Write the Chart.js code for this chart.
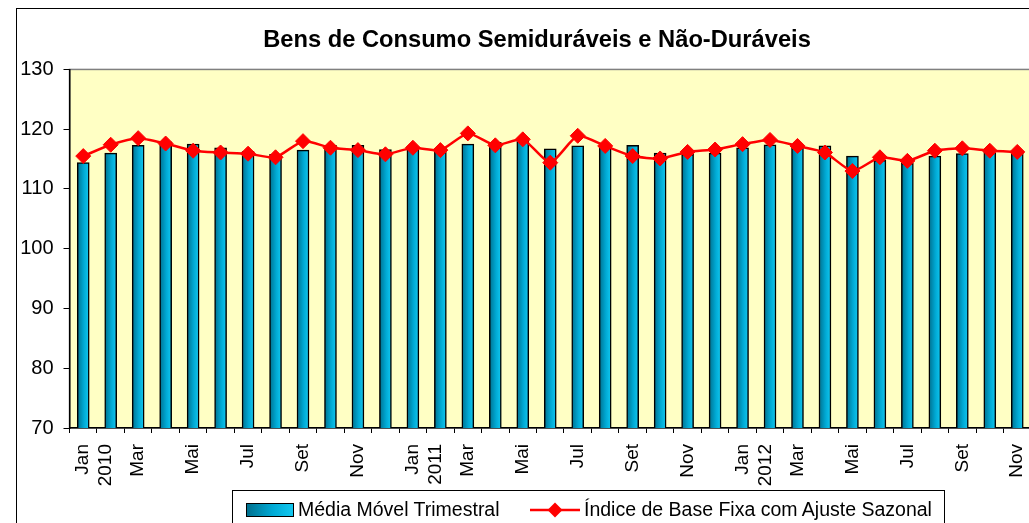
<!DOCTYPE html>
<html>

<head>
    <title>Bens de Consumo Semiduráveis e Não-Duráveis</title>
    <script src="https://cdn.jsdelivr.net/npm/chart.js"></script>
    <style>
        body { margin: 0; overflow: hidden; background: #fff; font-family: "Liberation Sans", Arial, sans-serif; }
        #frame { position: absolute; left: 16px; top: 8px; width: 1042px; height: 530px; border: 1px solid #000; box-sizing: border-box; }
        #legenda { position: absolute; left: 232px; top: 490px; width: 713px; height: 45px; border: 1px solid #000; box-sizing: border-box; font-size: 19.5px; color: #000; }
        #legenda .item { position: absolute; top: 7px; display: flex; align-items: center; white-space: nowrap; }
        #legenda .barra { width: 46px; height: 12px; border: 1.5px solid #000; background: linear-gradient(to right, #00708e, #00a9d4 55%, #12c8f0); margin-right: 4px; }
    </style>
</head>

<body>
    <div id="frame"><canvas id="grafico"></canvas></div>
    <div id="legenda">
        <div class="item" style="left: 13px;"><span class="barra"></span>Média Móvel Trimestral</div>
        <div class="item" style="left: 297px;">
            <svg width="50" height="18" style="margin-right: 4px;">
                <line x1="0" y1="9" x2="50" y2="9" stroke="#ff0000" stroke-width="2.5" />
                <polygon points="25,1.5 32.5,9 25,16.5 17.5,9" fill="#ff0000" />
            </svg>Índice de Base Fixa com Ajuste Sazonal
        </div>
    </div>

    <script>
        // dados (jan/2010 a nov/2012)
        const meses = ['Jan', 'Fev', 'Mar', 'Abr', 'Mai', 'Jun', 'Jul', 'Ago', 'Set', 'Out', 'Nov', 'Dez'];
        const anos = ['2010', '2011', '2012'];
        const totalMeses = 35;

        const mediaMovel = [
            114.4, 116.0, 117.3, 117.9, 117.5, 116.9, 116.3, 115.8, 116.5, 117.3, 117.3, 116.6,
            117.0, 116.8, 117.5, 117.8, 118.2, 116.7, 117.2, 117.0, 117.3, 116.0, 115.8, 116.0,
            116.9, 117.4, 117.2, 117.2, 115.5, 114.8, 114.3, 115.5, 115.9, 116.3, 116.3
        ];
        const indiceAjustado = [
            115.5, 117.4, 118.5, 117.6, 116.4, 116.1, 115.9, 115.3, 118.0, 116.9, 116.5, 115.8,
            116.9, 116.5, 119.3, 117.3, 118.3, 114.4, 118.9, 117.2, 115.5, 115.1, 116.2, 116.6,
            117.5, 118.2, 117.2, 116.1, 113.0, 115.3, 114.7, 116.4, 116.8, 116.4, 116.2
        ];
        const yTicks = [70, 80, 90, 100, 110, 120, 130];

        let categorias = [];
        for (let i = 0; i < totalMeses; i++) {
            categorias.push(meses[i % 12] + ' ' + anos[Math.floor(i / 12)]);
        }

        const fonte = 'Liberation Sans';

        // fundo amarelo da área de plotagem
        const fundoPlot = {
            id: 'fundoPlot',
            beforeDraw(chart) {
                const a = chart.chartArea;
                const ctx = chart.ctx;
                ctx.save();
                ctx.fillStyle = '#ffffc4';
                ctx.fillRect(a.left, a.top, a.right - a.left, a.bottom - a.top);
                ctx.strokeStyle = '#808080';
                ctx.lineWidth = 1.5;
                ctx.strokeRect(a.left, a.top, a.right - a.left, a.bottom - a.top);
                ctx.restore();
            }
        };

        function corBarra(c) {
            const chart = c.chart;
            if (!chart.chartArea || c.dataIndex === undefined) return '#00a9d4';
            const x = chart.scales.x.getPixelForValue(c.dataIndex);
            const g = chart.ctx.createLinearGradient(x - 6, 0, x + 6, 0);
            g.addColorStop(0, '#00708e');
            g.addColorStop(0.55, '#00a9d4');
            g.addColorStop(1, '#12c8f0');
            return g;
        }

        const ctx = document.getElementById('grafico').getContext('2d');
        new Chart(ctx, {
            type: 'bar',
            data: {
                labels: categorias,
                datasets: [{
                    type: 'line',
                    label: 'Índice de Base Fixa com Ajuste Sazonal',
                    data: indiceAjustado,
                    borderColor: '#ff0000',
                    backgroundColor: '#ff0000',
                    borderWidth: 2.5,
                    tension: 0.2,
                    pointStyle: 'rectRot',
                    pointRadius: 7.5,
                    pointBorderWidth: 1,
                    order: 0
                }, {
                    label: 'Média Móvel Trimestral',
                    data: mediaMovel,
                    backgroundColor: corBarra,
                    borderColor: '#000',
                    borderWidth: 1.5,
                    barThickness: 12,
                    order: 1
                }]
            },
            options: {
                responsive: true,
                maintainAspectRatio: false,
                animation: false,
                layout: { padding: 0 },
                plugins: {
                    legend: { display: false },
                    tooltip: { enabled: false },
                    title: {
                        display: true,
                        text: 'Bens de Consumo Semiduráveis e Não-Duráveis',
                        color: '#000',
                        font: { family: fonte, size: 23.7, weight: 'bold' },
                        padding: { top: 17, bottom: 15 }
                    }
                },
                scales: {
                    x: {
                        grid: { display: true, drawOnChartArea: false, drawTicks: true, tickLength: 5, color: '#000', offset: true },
                        border: { display: true, color: '#000', width: 1.5 },
                        ticks: {
                            autoSkip: false,
                            maxRotation: 90,
                            minRotation: 90,
                            padding: 11,
                            color: '#000',
                            font: { family: fonte, size: 19 },
                            callback: function (val, i) {
                                if (i % 2 !== 0) return '';
                                const mes = meses[i % 12];
                                return mes === 'Jan' ? [mes, anos[Math.floor(i / 12)]] : mes;
                            }
                        },
                        afterFit: function (s) { s.height = 109; }
                    },
                    y: {
                        min: 70,
                        max: 130,
                        afterBuildTicks: function (s) { s.ticks = yTicks.map(v => ({ value: v })); },
                        grid: { display: true, drawOnChartArea: false, drawTicks: true, tickLength: 6, color: '#000' },
                        border: { display: true, color: '#000', width: 1.5 },
                        ticks: {
                            padding: 10,
                            color: '#000',
                            font: { family: fonte, size: 20 }
                        },
                        afterFit: function (s) { s.width = 52.5; }
                    },
                    // margem direita vazia (a área do gráfico continua além da janela)
                    margemDir: {
                        position: 'right',
                        display: true,
                        grid: { display: false },
                        border: { display: false },
                        ticks: { display: false },
                        afterFit: function (s) { s.width = 26; }
                    }
                }
            },
            plugins: [fundoPlot]
        });
    </script>
</body>

</html>
